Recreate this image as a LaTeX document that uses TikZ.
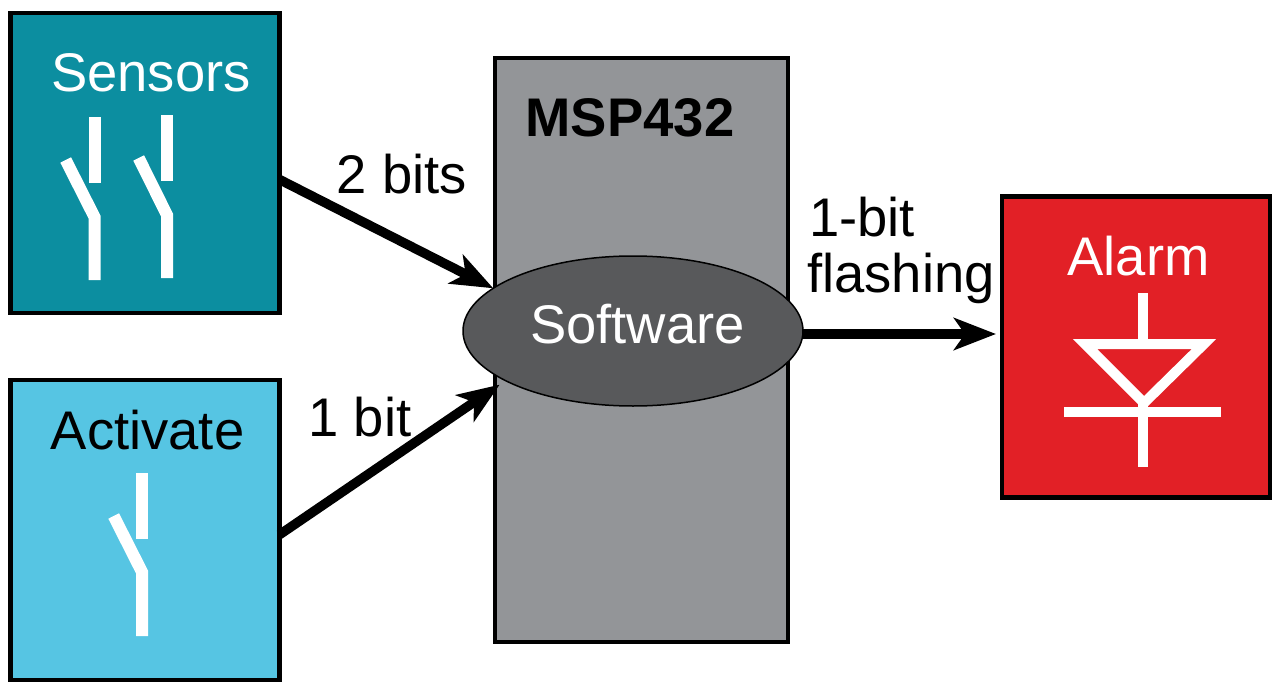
\documentclass[tikz,border=0pt]{standalone}
\usepackage{fontspec}
\setmainfont{Liberation Sans}
\usetikzlibrary{arrows.meta,shapes.geometric}
\definecolor{tealbox}{HTML}{0C8EA0}
\definecolor{skybox}{HTML}{56C5E3}
\definecolor{chipgray}{HTML}{939598}
\definecolor{softgray}{HTML}{58595B}
\definecolor{alarmred}{HTML}{E22026}
\tikzset{
  x=1pt,y=-1pt,
  blockbox/.style={draw=black,line width=4.5pt,rectangle,inner sep=0pt,outer sep=0pt,minimum width=#1},
  lab/.style={font=\fontsize{54.4}{56}\selectfont,inner sep=0pt,outer sep=0pt,anchor=base},
  flow/.style={draw=black,line width=9.5pt,-{Stealth[length=42pt,width=32pt,inset=11pt]}},
  swline/.style={draw=white,line width=12pt,line join=miter},
  diodeline/.style={draw=white,line width=10pt,line join=miter},
}
\begin{document}
\begin{tikzpicture}
\useasboundingbox (0,0) rectangle (1285,693);
% blocks
\node[blockbox=269pt,minimum height=300pt,fill=tealbox] (sensors) at (145,163) {};
\node[blockbox=269pt,minimum height=300pt,fill=skybox] (activate) at (145,530) {};
\node[blockbox=293pt,minimum height=584pt,fill=chipgray] (chip) at (641.5,350) {};
\node[blockbox=268pt,minimum height=301pt,fill=alarmred] (alarm) at (1136,347) {};
\node[ellipse,draw=black,line width=1.5pt,fill=softgray,minimum width=340pt,minimum height=150pt,inner sep=0pt,outer sep=0pt] (soft) at (633,331) {};
% connectors
\draw[flow] (sensors.-7) -- (soft.163.45);
\draw[flow] (activate.-2.8) -- ([shift={(-8,3)}]soft.202.8);
\draw[flow] ([shift={(0,3)}]soft.east) -- ([shift={(-6,-13)}]alarm.west);
% labels
\node[lab,text=white] (tsensors) at (151,92) {Sensors};
\node[lab,text=black] (tactivate) at (147.5,449) {Activate};
\node[lab,text=white] (talarm) at (1138.5,275) {Alarm};
\node[lab,text=white] (tsoft) at (637.5,343) {Software};
\node[lab,text=black,font=\fontsize{54.4}{56}\bfseries\selectfont] (tmsp) at (630,136.5) {MSP432};
\node[lab,text=black] (t2) at (402,193.5) {2 bits};
\node[lab,text=black] (t1) at (360,436) {1 bit};
\node[lab,text=black] (t1b) at (862,236) {1-bit};
\node[lab,text=black] (tfl) at (901,292) {flashing};
% sensor switches
\draw[swline] (94.5,117) -- (94.5,183);
\draw[swline] (65.7,160) -- (94.5,217) -- (94.5,280);
\draw[swline] (167,115) -- (167,181);
\draw[swline] (138.7,158) -- (167,215) -- (167,278);
% activate switch
\draw[swline] (142,473) -- (142,539);
\draw[swline] (113.7,516) -- (142,572) -- (142,636);
% diode
\draw[diodeline] (1143,293) -- (1143,344);
\draw[diodeline] (1085,344) -- (1204,344) -- (1144,403) -- cycle;
\draw[diodeline] (1064,412) -- (1221,412);
\draw[diodeline] (1143,403) -- (1143,467);
\end{tikzpicture}
\end{document}
